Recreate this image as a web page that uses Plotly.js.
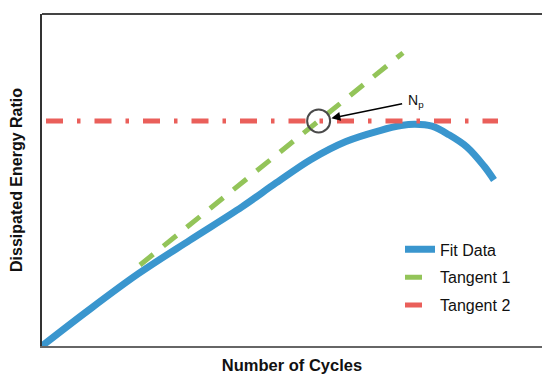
<!DOCTYPE html>
<html>
<head>
<meta charset="utf-8">
<script src="https://cdn.plot.ly/plotly-3.0.1.min.js"></script>
<style>
  html, body { margin: 0; padding: 0; background: #fff; }
  #chart { width: 542px; height: 374px; }
</style>
</head>
<body>
<div id="chart"></div>
<script>
// Dissipated energy ratio vs. number of cycles (arbitrary units, no tick labels)
const cycles = [0, 8.8, 19.2, 29.6, 40, 46.8, 53.8, 60.8, 67.6, 71.8, 74.6, 78, 81.4, 85, 88.4, 90.4];
const ratio  = [0, 10.2, 21.7, 31.9, 41.9, 49.1, 56.2, 61.6, 64.9, 66.4, 66.8, 66.2, 63.6, 59.9, 54.2, 50.0];

// Tangent 1: initial linear portion
const tangent1X = [19.6, 72.2];
const tangent1Y = [24.4, 88.3];

// Tangent 2: horizontal line through the peak level
const tangent2X = [0.8, 91.2];
const tangent2Y = [67.8, 67.8];

// Intersection of the two tangents gives N_p
const slope1 = (tangent1Y[1] - tangent1Y[0]) / (tangent1X[1] - tangent1X[0]);
const npY = tangent2Y[0];
const npX = tangent1X[0] + (npY - tangent1Y[0]) / slope1;

const font = "'Liberation Sans', Arial, Helvetica, sans-serif";

const traces = [
  {
    x: tangent1X, y: tangent1Y, mode: 'lines', name: 'Tangent 1',
    legendrank: 2, legendgroup: 'b',
    line: { color: 'rgb(147,196,89)', width: 5, dash: '17px,13px' }
  },
  {
    x: cycles, y: ratio, mode: 'lines', name: 'Fit Data',
    legendrank: 1, legendgroup: 'a',
    line: { color: 'rgb(58,150,206)', width: 7, shape: 'spline', smoothing: 1 }
  },
  {
    x: tangent2X, y: tangent2Y, mode: 'lines', name: 'Tangent 2',
    legendrank: 3, legendgroup: 'c',
    line: { color: 'rgb(234,95,90)', width: 5, dash: '17px,14px,3.5px,14px' }
  },
  {
    x: [npX], y: [npY], mode: 'markers', showlegend: false, hoverinfo: 'skip',
    marker: { symbol: 'circle-open', size: 23, color: '#4a4a4a', line: { width: 2, color: '#4a4a4a' } }
  }
];

const layout = {
  width: 542, height: 374,
  margin: { l: 42, r: 0, t: 14, b: 28 },
  paper_bgcolor: '#fff', plot_bgcolor: '#fff',
  font: { family: font, color: '#111' },
  showlegend: true,
  legend: {
    x: 0.716, y: 0.342, xanchor: 'left', yanchor: 'top',
    font: { family: font, size: 16, color: '#111' },
    traceorder: 'grouped', tracegroupgap: 4,
    bgcolor: 'rgba(0,0,0,0)', borderwidth: 0
  },
  xaxis: {
    range: [0, 100], showgrid: false, zeroline: false, showticklabels: false, ticks: '',
    showline: true, linecolor: '#666', linewidth: 2,
    title: { text: 'Number of Cycles', font: { family: font, size: 16.5, weight: 'bold', color: '#111' }, standoff: 13 }
  },
  yaxis: {
    range: [0, 100], showgrid: false, zeroline: false, showticklabels: false, ticks: '',
    showline: true, linecolor: '#333', linewidth: 2,
    title: { text: 'Dissipated Energy Ratio', font: { family: font, size: 16, weight: 'bold', color: '#111' }, standoff: 13 }
  },
  shapes: [
    { type: 'line', xref: 'paper', yref: 'paper', x0: 0, x1: 1, y0: 1, y1: 1,
      line: { color: '#444', width: 2 } }
  ],
  annotations: [
    {
      x: npX, y: npY, xref: 'x', yref: 'y',
      text: 'N<sub>p</sub>', showarrow: true,
      ax: 97, ay: -20, standoff: 13, borderpad: 5,
      arrowhead: 2, arrowsize: 1.2, arrowwidth: 1.5, arrowcolor: '#000',
      font: { family: font, size: 14, color: '#111' }
    }
  ]
};

Plotly.newPlot('chart', traces, layout, { displayModeBar: false, staticPlot: true });
</script>
</body>
</html>
